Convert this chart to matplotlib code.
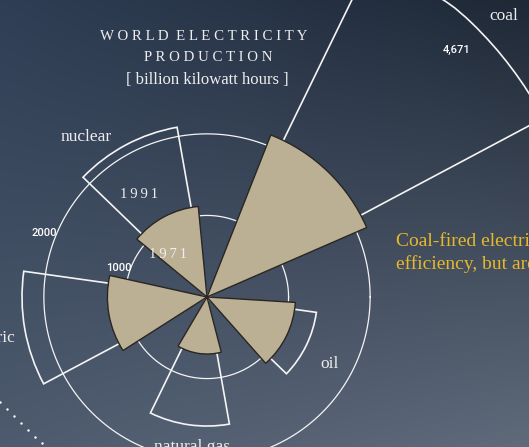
import numpy as np
import matplotlib
matplotlib.use("Agg")
from matplotlib import pyplot as plt


# sources, angle of each sector (degrees, counter-clockwise from east)
sources = ["coal", "nuclear", "hydroelectric", "natural gas", "oil"]
angles = [46, 118, 190, 262, 334]
prod_1971 = [2135, 1115, 1221, 699, 1085]   # filled wedges
prod_1991 = [4671, 2113, 2268, 1582, 1354]  # outlined wedges
grid_values = [1000, 2000]
grid_labels = ["1000", "2000"]

# dotted trail in the lower-left corner (pixel coords of the page)
dots_x = [0, 7, 14, 21, 28, 35, 42]
dots_y = [402, 409, 416, 423, 430, 437, 443]

W, H = 529, 447
CX, CY = 207, 297          # pole of the rose, in pixels
PX_PER_UNIT = 381 / 4671.0  # radius scale
RPX = 430
RMAX = RPX / PX_PER_UNIT

FILL = "#bbb093"
EDGE = "#2a2622"
LINE = "#f4f4f4"
TEXT = "#eeeeee"
GOLD = "#e6b82a"
SERIF = ["Liberation Serif", "DejaVu Serif"]


def spaced(s, sep=" ", gap="  "):
  words = s.split(" ")
  return gap.join(sep.join(w) for w in words)


def background(fig):
  bg = fig.add_axes([0, 0, 1, 1])
  tl = np.array([0x2f, 0x3e, 0x55]) / 255
  tr = np.array([0x1e, 0x28, 0x36]) / 255
  bl = np.array([0x4e, 0x5b, 0x6e]) / 255
  br = np.array([0x5f, 0x6a, 0x7b]) / 255
  u = np.linspace(0, 1, 200)[None, :, None]
  v = np.linspace(0, 1, 200)[:, None, None]
  img = (1 - v) * ((1 - u) * tl + u * tr) + v * ((1 - u) * bl + u * br)
  bg.imshow(img, extent=[0, W, H, 0], aspect="auto", interpolation="bilinear")
  bg.set_xlim(0, W)
  bg.set_ylim(H, 0)
  bg.axis("off")
  return bg


def main():
  fig = plt.figure(figsize=(W / 100, H / 100), dpi=100)
  bg = background(fig)

  # titles and side note, in page pixels
  bg.text(204, 36, spaced("WORLD ELECTRICITY"), color=TEXT, fontsize=10.7,
          family=SERIF, ha="center", va="center")
  bg.text(208, 57.5, spaced("PRODUCTION"), color=TEXT, fontsize=10.7,
          family=SERIF, ha="center", va="center")
  bg.text(207, 80, "[ billion kilowatt hours ]", color=TEXT, fontsize=12,
          family=SERIF, ha="center", va="center")
  bg.text(396, 241, "Coal-fired electricity", color=GOLD,
          fontsize=14, family=SERIF, ha="left", va="center")
  bg.text(396, 264, "efficiency, but are", color=GOLD,
          fontsize=14, family=SERIF, ha="left", va="center")
  bg.scatter(dots_x, dots_y, s=3, color="white", linewidths=0)

  # polar rose
  ax = fig.add_axes([(CX - RPX) / W, (H - CY - RPX) / H, 2 * RPX / W, 2 * RPX / H],
                    projection="polar")
  ax.set_ylim(0, RMAX)
  ax.set_axis_off()

  t = np.linspace(0, 2 * np.pi, 400)
  for g in grid_values:
    ax.plot(t, np.full_like(t, g), color=LINE, lw=0.9, zorder=1)

  theta = np.radians(angles)
  ax.bar(theta, prod_1991, width=np.radians(36), bottom=0, fill=False,
         edgecolor=LINE, linewidth=1.2, zorder=2)
  ax.bar(theta, prod_1971, width=np.radians(45), bottom=0, color=FILL,
         edgecolor=EDGE, linewidth=1.0, zorder=3)

  lab = dict(color=TEXT, fontsize=12.5, family=SERIF, va="center")
  ax.text(np.radians(43.4), 5013, "coal", ha="center", **lab)
  ax.text(np.radians(127.1), 2459, "nuclear", ha="center", **lab)
  ax.text(np.radians(192.2), 2395, "hydroelectric", ha="right", **lab)
  ax.text(np.radians(264.1), 1845, "natural gas", ha="center", **lab)
  ax.text(np.radians(-28.6), 1717, "oil", ha="center", **lab)
  yr = dict(color=TEXT, fontsize=10.5, family=SERIF, va="center",
            ha="center", zorder=5)
  ax.text(np.radians(123.5), 1500, spaced("1991", sep="\u2009"), **yr)
  ax.text(np.radians(132.2), 711, spaced("1971", sep="\u2009"), **yr)

  num = dict(color="white", fontsize=8, family=["Roboto", "DejaVu Sans"],
             fontweight="medium", ha="center", va="center", zorder=5)
  ax.text(np.radians(44.7), 4305, "{:,}".format(prod_1991[0]), **num)
  ax.text(np.radians(158.6), 2147, grid_labels[1], **num)
  ax.text(np.radians(161.9), 1142, grid_labels[0], **num)

  fig.savefig("out.png", dpi=100)


if __name__ == "__main__":
  main()
